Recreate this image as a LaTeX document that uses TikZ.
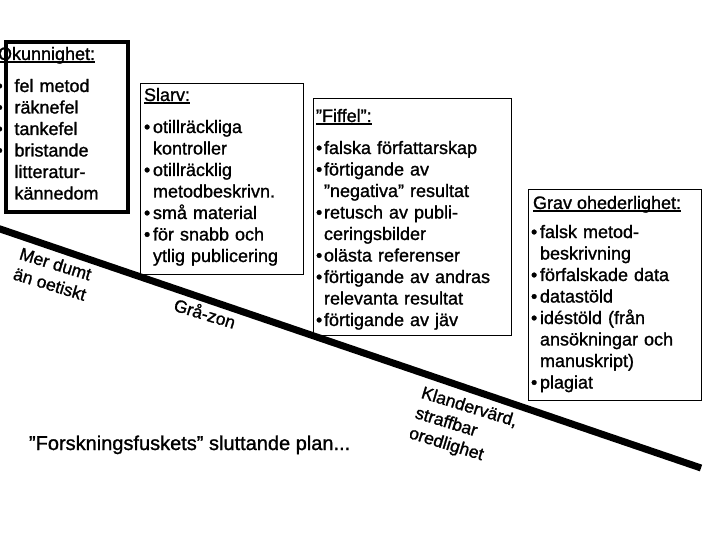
\documentclass[tikz,border=0pt]{standalone}
\usepackage{fontspec}
\setmainfont{Liberation Sans}[FakeBold=1.2]
\newcommand\ulhead[1]{\setbox0\hbox{#1}\rlap{\copy0}\rule[-2.6pt]{\wd0}{1.1pt}}
\newlength\bind
\setlength\bind{8pt}
\newcommand\bitem[1]{\makebox[\bind][l]{•}#1}
\newcommand\bcont[1]{\hspace*{\bind}#1}
\begin{document}
\lineskiplimit=-20pt\relax
\begin{tikzpicture}[x=1pt,y=-1pt,
  every node/.style={inner sep=0pt, outer sep=0pt},
  lbox/.style={draw, line width=0.9pt, anchor=north west},
  tbox/.style={draw, line width=4pt, anchor=north west},
  head/.style={anchor=base west, font=\fontsize{18}{21.5}\selectfont},
  list/.style={anchor=base west, text width=220pt, align=left,
    font=\fontsize{18}{21.5}\selectfont},
  slant/.style={rotate=-17, align=left, font=\fontsize{17.5}{21}\selectfont},
  slope/.style={line width=7pt}]
\useasboundingbox (0,0) rectangle (720,540);
\fill[white] (0,0) rectangle (720,540);

% boxes
\node[tbox, minimum width=122pt, minimum height=170pt] (b1) at (5.5,42) {};
\node[lbox, minimum width=163pt, minimum height=191pt] (b2) at (140,83) {};
\node[lbox, minimum width=198pt, minimum height=237pt] (b3) at (313,98) {};
\node[lbox, minimum width=173pt, minimum height=211pt] (b4) at (528,189) {};

% Okunnighet
\node[head] (h1) at (-2,60) {\ulhead{Okunnighet:}};
\node[list, execute at begin node={\setlength\bind{18pt}}] (l1) at (-3.5,92) {%
\bitem{fel metod}\\
\bitem{räknefel}\\
\bitem{tankefel}\\
\bitem{bristande}\\
\bcont{litteratur-}\\
\bcont{kännedom}};

% Slarv
\node[head] (h2) at (144,101) {\ulhead{Slarv:}};
\node[list, execute at begin node={\setlength\bind{9pt}}] (l2) at (144,133) {%
\bitem{otillräckliga}\\
\bcont{kontroller}\\
\bitem{otillräcklig}\\
\bcont{metodbeskrivn.}\\
\bitem{små material}\\
\bitem{för snabb och}\\
\bcont{ytlig publicering}};

% Fiffel
\node[head] (h3) at (316,122) {\ulhead{”Fiffel”:}};
\node[list] (l3) at (316,154) {%
\bitem{falska författarskap}\\
\bitem{förtigande av}\\
\bcont{”negativa” resultat}\\
\bitem{retusch av publi-}\\
\bcont{ceringsbilder}\\
\bitem{olästa referenser}\\
\bitem{förtigande av andras}\\
\bcont{relevanta resultat}\\
\bitem{förtigande av jäv}};

% Grav ohederlighet
\node[head] (h4) at (533,209) {\ulhead{Grav ohederlighet:}};
\node[list, execute at begin node={\setlength\bind{9pt}}] (l4) at (531,238) {%
\bitem{falsk metod-}\\
\bcont{beskrivning}\\
\bitem{förfalskade data}\\
\bitem{datastöld}\\
\bitem{idéstöld (från}\\
\bcont{ansökningar och}\\
\bcont{manuskript)}\\
\bitem{plagiat}};

% slope
\coordinate (ls) at (-4,227.6);
\coordinate (le) at (701,468);
\draw[slope] (ls) -- (le);

% slanted labels
\node[slant] (s1) at (53,274) {Mer dumt\\än oetiskt};
\node[slant] (s2) at (205,313) {Grå-zon};
\node[slant] (s3) at (463,428) {Klandervärd,\\straffbar\\oredlighet};

% bottom caption
\node[anchor=base west, font=\fontsize{20}{24}\selectfont] (cap) at (29,450) {”Forskningsfuskets” sluttande plan...};
\end{tikzpicture}
\end{document}
